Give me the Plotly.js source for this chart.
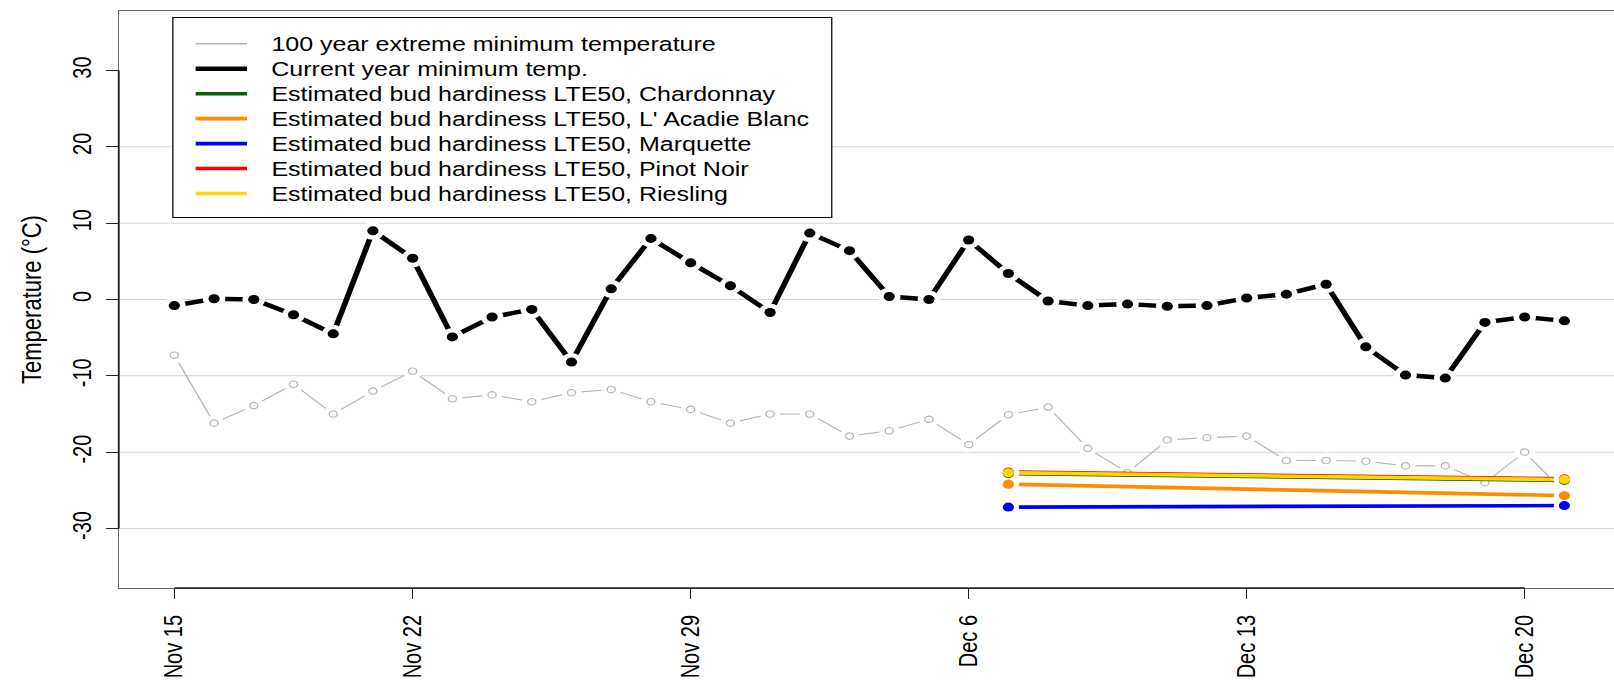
<!DOCTYPE html>
<html>
<head>
<meta charset="utf-8">
<script src="https://cdn.plot.ly/plotly-3.0.1.min.js"></script>
<style>
html, body { margin: 0; padding: 0; overflow: hidden; background: #ffffff; width: 1614px; height: 681px; }
#wrap { width: 1300px; height: 681px; transform: scaleX(1.25); transform-origin: 0 0; }
</style>
</head>
<body>
<div id="wrap"><div id="chart"></div></div>
<script>
// ---------------- data ----------------
const dates = [
  "2020-11-16","2020-11-17","2020-11-18","2020-11-19","2020-11-20","2020-11-21",
  "2020-11-22","2020-11-23","2020-11-24","2020-11-25","2020-11-26","2020-11-27",
  "2020-11-28","2020-11-29","2020-11-30","2020-12-01","2020-12-02","2020-12-03",
  "2020-12-04","2020-12-05","2020-12-06","2020-12-07","2020-12-08","2020-12-09",
  "2020-12-10","2020-12-11","2020-12-12","2020-12-13","2020-12-14","2020-12-15",
  "2020-12-16","2020-12-17","2020-12-18","2020-12-19","2020-12-20","2020-12-21"
];
const extremeMin = [
  -7.3, -16.2, -13.9, -11.1, -15.0, -12.0, -9.4, -13.0, -12.5, -13.4,
  -12.2, -11.8, -13.4, -14.4, -16.2, -15.0, -15.0, -17.9, -17.2, -15.7,
  -19.0, -15.1, -14.1, -19.5, -22.7, -18.4, -18.1, -17.9, -21.1, -21.1,
  -21.2, -21.8, -21.8, -24.0, -20.0, -25.3
];
const currentMin = [
  -0.8, 0.1, 0.0, -2.0, -4.5, 9.0, 5.4, -4.9, -2.3, -1.3,
  -8.2, 1.4, 8.0, 4.8, 1.8, -1.7, 8.7, 6.4, 0.4, 0.0,
  7.8, 3.4, -0.2, -0.8, -0.6, -0.9, -0.8, 0.2, 0.7, 2.0,
  -6.2, -9.9, -10.3, -3.0, -2.3, -2.8
];
const hardDates = ["2020-12-07", "2020-12-21"];
const chardonnay = [-22.8, -23.7];
const acadieBlanc = [-24.2, -25.7];
const marquette = [-27.2, -27.0];
const pinotNoir = [-22.6, -23.5];
const riesling = [-22.7, -23.6];

const seriesNames = [
  "100 year extreme minimum temperature",
  "Current year minimum temp.",
  "Estimated bud hardiness LTE50, Chardonnay",
  "Estimated bud hardiness LTE50, L' Acadie Blanc",
  "Estimated bud hardiness LTE50, Marquette",
  "Estimated bud hardiness LTE50, Pinot Noir",
  "Estimated bud hardiness LTE50, Riesling"
];
const tickDates = ["2020-11-16","2020-11-22","2020-11-29","2020-12-06","2020-12-13","2020-12-20"];
const tickLabels = ["Nov 15","Nov 22","Nov 29","Dec 6","Dec 13","Dec 20"];
const yTicks = [-30, -20, -10, 0, 10, 20, 30];
const gridValues = [-30, -20, -10, 0, 10, 20];
const yTitle = "Temperature (°C)";

// ---------------- styles ----------------
const FONT = "Liberation Sans, Arial, Helvetica, sans-serif";
const GRAY = "#B5B5B5";
const colors = [GRAY, "#000000", "#006400", "#FF8C00", "#0000FF", "#FF0000", "#FFD700"];
const legendWidths = [1.4, 4.5, 3.6, 3.6, 3.6, 3.6, 3.6];

const W = 1300, H = 681;
const M = { l: 95, r: 4, t: 11, b: 93 };
const pw = W - M.l - M.r, ph = H - M.t - M.b;
const px2x = u => (u - M.l) / pw;
const py2y = v => 1 - (v - M.t) / ph;

// x range: 4% padding like R
const t0 = Date.parse(dates[0]), t1 = Date.parse(dates[dates.length - 1]);
const pad = 0.04 * (t1 - t0);

function mask(x, y, size) {
  return { x: x, y: y, type: "scatter", mode: "markers",
    marker: { color: "#ffffff", size: size, line: { width: 0 } },
    hoverinfo: "skip", showlegend: false };
}

const traces = [];
// 100 year extreme min (gray, open circles, type "b")
traces.push({ x: dates, y: extremeMin, type: "scatter", mode: "lines", name: seriesNames[0],
  line: { color: GRAY, width: 1.1 }, showlegend: false });
traces.push(mask(dates, extremeMin, 16));
traces.push({ x: dates, y: extremeMin, type: "scatter", mode: "markers", name: seriesNames[0],
  marker: { symbol: "circle-open", size: 6.5, color: GRAY, line: { color: GRAY, width: 1.1 } },
  showlegend: false });
// current year min (black)
traces.push({ x: dates, y: currentMin, type: "scatter", mode: "lines", name: seriesNames[1],
  line: { color: "#000000", width: 4.5 }, showlegend: false });
traces.push(mask(dates, currentMin, 18));
traces.push({ x: dates, y: currentMin, type: "scatter", mode: "markers", name: seriesNames[1],
  marker: { color: "#000000", size: 9 }, showlegend: false });
// hardiness
const hard = [chardonnay, acadieBlanc, marquette, pinotNoir, riesling];
hard.forEach((vals, i) => {
  traces.push({ x: hardDates, y: vals, type: "scatter", mode: "lines", name: seriesNames[i + 2],
    line: { color: colors[i + 2], width: 3.6 }, showlegend: false });
});
hard.forEach((vals) => traces.push(mask(hardDates, vals, 17)));
hard.forEach((vals, i) => {
  traces.push({ x: hardDates, y: vals, type: "scatter", mode: "markers", name: seriesNames[i + 2],
    marker: { color: colors[i + 2], size: 9 }, showlegend: false });
});

// ---------------- shapes ----------------
const shapes = [];
gridValues.forEach(v => shapes.push({ type: "line", xref: "paper", x0: 0, x1: 1, yref: "y", y0: v, y1: v,
  line: { color: "#D3D3D3", width: 1 }, layer: "below" }));
// axis segments (first to last tick)
shapes.push({ type: "line", xref: "x", x0: tickDates[0], x1: tickDates[tickDates.length - 1],
  yref: "paper", y0: 0, y1: 0, line: { color: "#222222", width: 1.5 }, layer: "above" });
shapes.push({ type: "line", xref: "paper", x0: 0, x1: 0, yref: "y", y0: yTicks[0], y1: yTicks[yTicks.length - 1],
  line: { color: "#222222", width: 1.5 }, layer: "above" });

// legend box
const LG = { x0: 138.3, x1: 665.4, y0: 17.4, y1: 217.6, lineX0: 156.5, lineX1: 197.6, textX: 215.8, row0: 43.8, step: 24.95 };
shapes.push({ type: "rect", xref: "paper", yref: "paper",
  x0: px2x(LG.x0), x1: px2x(LG.x1), y0: py2y(LG.y1), y1: py2y(LG.y0),
  fillcolor: "#ffffff", line: { color: "#000000", width: 1 }, layer: "above" });
const annotations = [];
seriesNames.forEach((name, i) => {
  const yy = py2y(LG.row0 + i * LG.step);
  shapes.push({ type: "line", xref: "paper", yref: "paper", x0: px2x(LG.lineX0), x1: px2x(LG.lineX1),
    y0: yy, y1: yy, line: { color: colors[i], width: legendWidths[i] }, layer: "above" });
  annotations.push({ xref: "paper", yref: "paper", x: px2x(LG.textX), y: yy, xanchor: "left", yanchor: "middle",
    text: name, showarrow: false, borderpad: 0, font: { family: FONT, size: 20, color: "#000000" } });
});

const layout = {
  width: W, height: H,
  margin: M,
  paper_bgcolor: "#ffffff", plot_bgcolor: "#ffffff",
  font: { family: FONT, size: 20, color: "#000000" },
  showlegend: false,
  xaxis: {
    type: "date", range: [t0 - pad, t1 + pad],
    tickvals: tickDates, ticktext: tickLabels, tickangle: -90,
    ticks: "outside", ticklen: 10, tickwidth: 1, tickcolor: "#222222",
    tickfont: { family: FONT, size: 20, color: "#000000" },
    ticklabelstandoff: 8,
    showline: true, mirror: true, linecolor: "#666666", linewidth: 1,
    showgrid: false, zeroline: false, automargin: false
  },
  yaxis: {
    range: [-37.8, 37.8],
    tickvals: yTicks, ticktext: yTicks.map(String), tickangle: -90,
    ticks: "outside", ticklen: 9, tickwidth: 1, tickcolor: "#222222",
    tickfont: { family: FONT, size: 20, color: "#000000" },
    ticklabelstandoff: 4,
    showline: true, mirror: true, linecolor: "#666666", linewidth: 1,
    showgrid: false, zeroline: false, automargin: false,
    title: { text: yTitle, font: { family: FONT, size: 22, color: "#000000" }, standoff: 15 }
  },
  shapes: shapes,
  annotations: annotations
};

Plotly.newPlot("chart", traces, layout, { displayModeBar: false, staticPlot: true });
</script>
</body>
</html>
